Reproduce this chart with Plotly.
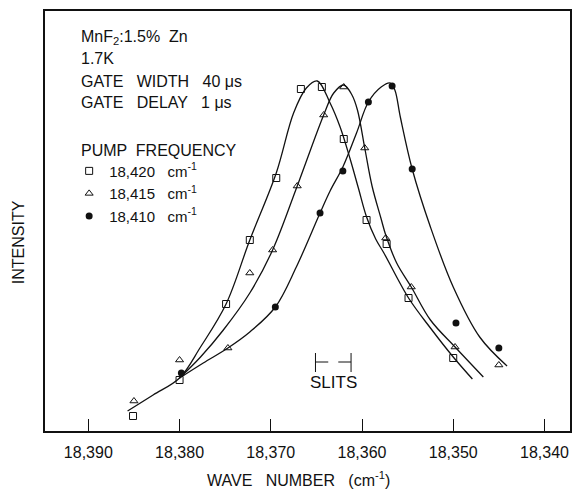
import plotly.graph_objects as go

# ---- data (wave number cm^-1, intensity arbitrary units) ----
sq_x = [18385.1, 18380.0, 18374.9, 18372.3, 18369.4, 18366.7, 18364.4, 18362.0, 18359.5, 18357.3, 18354.9, 18350.0]
sq_y = [15, 51, 127, 191, 253, 342, 344, 292, 211, 187, 133, 73]

tri_x = [18385.0, 18380.0, 18374.7, 18372.3, 18369.8, 18367.1, 18364.2, 18362.0, 18359.7, 18357.4, 18354.6, 18349.8, 18345.0]
tri_y = [30, 71, 83, 158, 181, 245, 316, 344, 283, 193, 144, 84, 66]

circ_x = [18379.8, 18369.5, 18364.6, 18362.1, 18359.3, 18356.7, 18354.5, 18349.7, 18345.0]
circ_y = [58, 124, 218, 260, 329, 345, 262, 108, 83]

sq_curve_x = [18385.7, 18382.9, 18380.0, 18377.7, 18374.9, 18372.3, 18369.4, 18367.5, 18366.1, 18364.9,
              18363.5, 18362.4, 18361.3, 18360.4, 18359.5, 18358.5, 18357.6, 18354.9, 18352.5, 18350.0, 18347.9]
sq_curve_y = [20, 36, 53, 84, 127, 191, 258, 318, 343, 350,
              328, 304, 272, 243, 214, 192, 178, 133, 103, 74, 52]

tri_curve_x = [18380.0, 18377.7, 18375.2, 18372.3, 18369.8, 18367.1, 18364.2, 18363.1, 18362.0, 18361.1,
               18360.5, 18359.7, 18358.9, 18357.9, 18357.4, 18356.2, 18354.6, 18352.5, 18349.8, 18346.7]
tri_curve_y = [53, 74, 101, 138, 181, 245, 316, 338, 346, 336,
               321, 283, 245, 212, 196, 168, 144, 111, 84, 54]

circ_curve_x = [18380.0, 18377.4, 18374.7, 18372.3, 18369.5, 18367.2, 18364.6, 18363.5, 18362.1, 18360.6,
                18359.3, 18357.9, 18356.9, 18356.4, 18355.8, 18354.5, 18352.5, 18350.0, 18347.1, 18344.1]
circ_curve_y = [53, 68, 83, 99, 124, 164, 218, 240, 264, 298,
                329, 344, 348, 341, 314, 262, 204, 144, 94, 65]

series_names = ["18,420   cm<sup>-1</sup>", "18,415   cm<sup>-1</sup>", "18,410   cm<sup>-1</sup>"]

tick_vals = [18390, 18380, 18370, 18360, 18350, 18340]
tick_text = ["18,390", "18,380", "18,370", "18,360", "18,350", "18,340"]

slit_x = [18365.1, 18361.2]   # slit marker positions
slit_y = 69

FONT = "Liberation Sans"
INK = "#111111"

fig = go.Figure()

for cx, cy in [(sq_curve_x, sq_curve_y), (tri_curve_x, tri_curve_y), (circ_curve_x, circ_curve_y)]:
    fig.add_trace(go.Scatter(x=cx, y=cy, mode="lines", showlegend=False, hoverinfo="skip",
                             line=dict(color=INK, width=1.3, shape="spline", smoothing=1.0)))

fig.add_trace(go.Scatter(x=sq_x, y=sq_y, mode="markers", name=series_names[0],
                         marker=dict(symbol="square-open", size=7, color=INK, line=dict(width=1, color=INK))))
fig.add_trace(go.Scatter(x=tri_x, y=tri_y, mode="markers", name=series_names[1],
                         marker=dict(symbol="triangle-up-open", size=7, color=INK, line=dict(width=1, color=INK))))
fig.add_trace(go.Scatter(x=circ_x, y=circ_y, mode="markers", name=series_names[2],
                         marker=dict(symbol="circle", size=7, color=INK)))

# slit markers
for i, sx in enumerate(slit_x):
    d = -1.4 if i == 0 else 1.4
    fig.add_shape(type="line", x0=sx, x1=sx, y0=slit_y - 10, y1=slit_y + 9, line=dict(color=INK, width=1))
    fig.add_shape(type="line", x0=sx, x1=sx + d, y0=slit_y, y1=slit_y, line=dict(color=INK, width=1))

annots = []
left_lines = ["MnF<sub>2</sub>:1.5%  Zn", "1.7K", "GATE   WIDTH   40 μs", "GATE   DELAY   1 μs",
              "PUMP  FREQUENCY"]
ys = [0.938, 0.886, 0.833, 0.781, 0.669]
for t, yy in zip(left_lines, ys):
    annots.append(dict(text=t, x=0.065, y=yy, xref="paper", yref="paper", xanchor="left", yanchor="middle",
                       showarrow=False, font=dict(family=FONT, size=16, color=INK)))
annots.append(dict(text="SLITS", x=(slit_x[0] + slit_x[1]) / 2, y=slit_y - 20, xref="x", yref="y",
                   xanchor="center", yanchor="middle", showarrow=False,
                   font=dict(family=FONT, size=17, color=INK)))
annots.append(dict(text="INTENSITY", x=-0.051, y=0.45, xref="paper", yref="paper", textangle=-90,
                   xanchor="center", yanchor="middle", showarrow=False,
                   font=dict(family=FONT, size=16, color=INK)))
annots.append(dict(text="WAVE   NUMBER   (cm<sup>-1</sup>)", x=0.483, y=-0.114, xref="paper", yref="paper",
                   xanchor="center", yanchor="middle", showarrow=False,
                   font=dict(family=FONT, size=16, color=INK)))

fig.update_layout(
    width=577, height=489,
    margin=dict(l=45, r=7, t=11, b=58, autoexpand=False),
    paper_bgcolor="white", plot_bgcolor="white",
    font=dict(family=FONT, size=16, color=INK),
    annotations=annots,
    legend=dict(x=0.046, y=0.658, xanchor="left", yanchor="top", bgcolor="rgba(0,0,0,0)",
                font=dict(family=FONT, size=15, color=INK), tracegroupgap=0, itemwidth=30),
    showlegend=True,
)
fig.update_xaxes(range=[18394.75, 18337.2], showgrid=False, zeroline=False, automargin=False,
                 showline=True, linecolor=INK, linewidth=1.5, mirror=True,
                 ticks="inside", ticklen=12, tickwidth=1, tickcolor=INK,
                 tickvals=tick_vals, ticktext=tick_text, ticklabelstandoff=6,
                 tickfont=dict(family=FONT, size=16, color=INK))
fig.update_yaxes(range=[0, 420], showgrid=False, zeroline=False, showticklabels=False, automargin=False,
                 showline=True, linecolor=INK, linewidth=1.5, mirror=True, ticks="")

fig.write_html("out.html", config={"displayModeBar": False},
               post_script="document.body.style.margin='0';document.body.style.padding='0';")
